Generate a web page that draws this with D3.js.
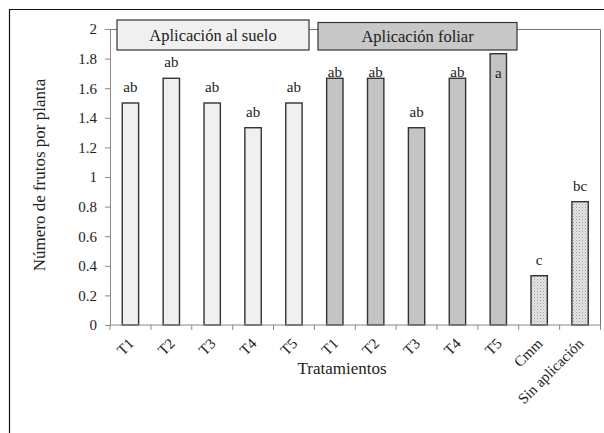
<!DOCTYPE html>
<html><head><meta charset="utf-8">
<script src="https://cdnjs.cloudflare.com/ajax/libs/d3/7.8.5/d3.min.js"></script>
<style>body{margin:0;background:#fff}svg{display:block}text{font-family:"Liberation Serif","Times New Roman",serif;fill:#222}</style>
</head><body>
<script>
const categories = ["T1","T2","T3","T4","T5","T1 ","T2 ","T3 ","T4 ","T5 ","Cmm","Sin aplicación"];
const values = [1.5,1.667,1.5,1.333,1.5,1.667,1.667,1.333,1.667,1.833,0.333,0.833];
const groups = ["suelo","suelo","suelo","suelo","suelo","foliar","foliar","foliar","foliar","foliar","otro","otro"];
const letters = ["ab","ab","ab","ab","ab","ab","ab","ab","ab","a","c","bc"];
const yTicks = [0,0.2,0.4,0.6,0.8,1,1.2,1.4,1.6,1.8,2];

const W=604,H=433;
const svg=d3.select("body").append("svg").attr("width",W).attr("height",H);
const defs=svg.append("defs");
const pat=defs.append("pattern").attr("id","dots").attr("width",3).attr("height",3).attr("patternUnits","userSpaceOnUse");
pat.append("rect").attr("width",3).attr("height",3).attr("fill","#e8e8e8");
pat.append("rect").attr("width",1).attr("height",1).attr("fill","#999");
pat.append("rect").attr("x",1.5).attr("y",1.5).attr("width",1).attr("height",1).attr("fill","#aaa");

// outer frame
svg.append("path").attr("d","M9.5,433 V9.5 H604").attr("fill","none").attr("stroke","#111").attr("stroke-width",1.2);

const x=d3.scaleBand().domain(categories).range([110,600.5]).paddingInner(0.6).paddingOuter(0.3);
const y=d3.scaleLinear().domain([0,2]).range([325,29]);

// plot border top & right
svg.append("path").attr("d",`M110,29.5 H600.5 V325`).attr("fill","none").attr("stroke","#777").attr("stroke-width",1);

const fills={suelo:"#f0f0f0",foliar:"#c4c4c4",otro:"url(#dots)"};
svg.selectAll("rect.bar").data(values).enter().append("rect").attr("class","bar")
 .attr("x",(d,i)=>x(categories[i])).attr("width",x.bandwidth())
 .attr("y",d=>y(d)).attr("height",d=>y(0)-y(d))
 .attr("fill",(d,i)=>fills[groups[i]]).attr("stroke","#333").attr("stroke-width",1.4);

// y axis
const ya=svg.append("g").attr("transform","translate(110,0)").call(d3.axisLeft(y).tickValues(yTicks).tickSize(5).tickPadding(8).tickFormat(d=>d3.format("")(d)));
ya.selectAll("path,line").attr("stroke","#888");
ya.selectAll("text").style("font-size","15px").style("font-family","Liberation Serif").attr("fill","#222");

// x axis with ticks at boundaries
const xa=svg.append("g").attr("transform","translate(0,325)");
xa.append("line").attr("x1",110).attr("x2",600.5).attr("stroke","#888");
const bounds=d3.range(categories.length+1).map(i=>110+i*x.step());
xa.selectAll("line.t").data(bounds).enter().append("line").attr("x1",d=>d).attr("x2",d=>d).attr("y1",0).attr("y2",5).attr("stroke","#888");
xa.selectAll("text").data(categories).enter().append("text")
 .attr("transform",d=>`translate(${x(d)+x.bandwidth()/2-3},${12}) rotate(-45)`)
 .attr("text-anchor","end").attr("dy","0.7em").style("font-size","15px").text(d=>d.trim());

// letters
svg.selectAll("text.lbl").data(values).enter().append("text").attr("class","lbl")
 .attr("x",(d,i)=>x(categories[i])+x.bandwidth()/2)
 .attr("y",(d,i)=>letters[i]==="a" ? y(d)+24 : (groups[i]==="foliar" ? Math.max(y(d)-11,77) : y(d)-11))
 .attr("text-anchor","middle").style("font-size","15px").text((d,i)=>letters[i]);

// group boxes
const boxes=[{t:"Aplicación al suelo",x0:117,x1:309,y0:20,f:"#f0f0f0"},{t:"Aplicación foliar",x0:318,x1:517,y0:22.5,f:"#c8c8c8"}];
boxes.forEach(b=>{
 svg.append("rect").attr("x",b.x0).attr("y",b.y0).attr("width",b.x1-b.x0).attr("height",50-b.y0).attr("fill",b.f).attr("stroke","#333").attr("stroke-width",1.2);
 svg.append("text").attr("x",(b.x0+b.x1)/2).attr("y",b.y0+(50-b.y0)/2+5.5).attr("text-anchor","middle").style("font-size","16.5px").text(b.t);
});

// axis titles
svg.append("text").attr("transform","translate(45,175) rotate(-90)").attr("text-anchor","middle").style("font-size","17px").text("Número de frutos por planta");
svg.append("text").attr("x",342).attr("y",374).attr("text-anchor","middle").style("font-size","17px").text("Tratamientos");
</script>
</body></html>
